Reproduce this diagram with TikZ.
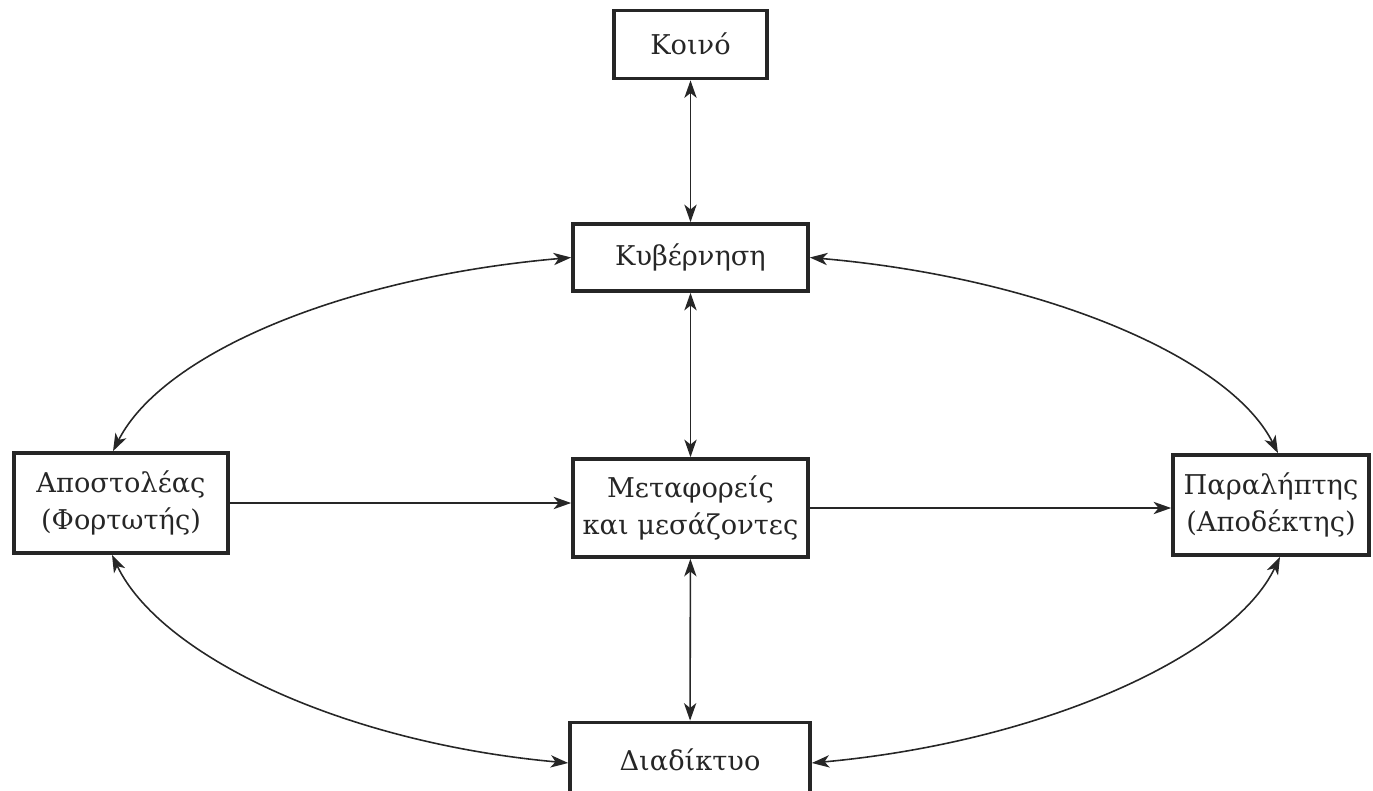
\documentclass[tikz,border=0pt]{standalone}
\usepackage{fontspec}
\setmainfont{DejaVu Serif}
\usetikzlibrary{arrows.meta,positioning}

\colorlet{box edge}{black!85}
\colorlet{link line}{black!85}
\tikzset{
  block/.style={draw=box edge, line width=2.1pt, align=center, inner sep=0pt,
    text=black!85, font=\fontsize{15.5}{21}\selectfont},
  wide/.style={block, minimum width=4.7cm, minimum height=1.34cm},
  >={Stealth[length=10pt,width=7pt,inset=2.8pt]}
  }
\tikzstyle{edge} = [draw=link line, line width=0.9pt]

\begin{document}
\begin{tikzpicture}[x=0.02cm, y=-0.02cm]
   \useasboundingbox (0,0) rectangle (1373,791);
   \clip (0,0) rectangle (1373,791);

   \node[block, minimum width=3.05cm, minimum height=1.36cm] (koino) at (690.5,44.5) {Κοινό};
   \node[wide] (kyv) at (690.5,257.5) {Κυβέρνηση};
   \node[wide, minimum height=1.96cm] (meta) at (690.5,508) {Μεταφορείς\\και μεσάζοντες};
   \node[block, minimum width=4.28cm, minimum height=2cm] (apo) at (121,503) {Αποστολέας\\(Φορτωτής)};
   \node[block, minimum width=3.92cm, minimum height=2cm] (para) at (1271,505) {Παραλήπτης\\(Αποδέκτης)};
   % bottom edge falls outside the page
   \node[wide, minimum width=4.8cm, minimum height=1.5cm] (diad) at (690,760) {Διαδίκτυο};

   \path[edge, <->] (koino) -- (kyv);
   \path[edge, <->] (kyv) -- (meta);
   \path[edge, <->] (meta) -- (diad);
   \path[edge, ->] (apo.east) -- (apo.east -| meta.west);
   \path[edge, ->] (meta.east) -- (meta.east -| para.west);

   % the four arcs of the ellipse
   \path[edge, <->] (kyv.west) .. controls +(-230,20) and +(49,-97) .. ([xshift=-0.16cm]apo.north);
   \path[edge, <->] (kyv.east) .. controls +(230,20) and +(-49,-97) .. ([xshift=0.14cm]para.north);
   \path[edge, <->] ([xshift=-0.18cm]apo.south) .. controls +(47,99) and +(-230,-21) .. ([yshift=-0.06cm]diad.west);
   \path[edge, <->] ([xshift=0.18cm]para.south) .. controls +(-47,99) and +(230,-21) .. ([yshift=-0.06cm]diad.east);
\end{tikzpicture}
\end{document}
